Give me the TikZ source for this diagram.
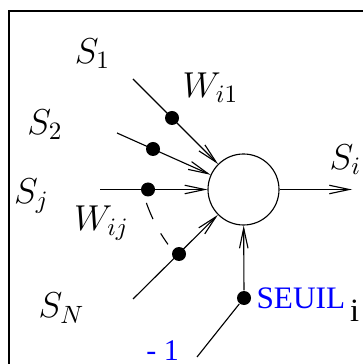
\documentclass[tikz,border=0pt]{standalone}
\usepackage{fontspec}
\newfontfamily\timesf{Liberation Serif}
\usetikzlibrary{arrows.meta}
\begin{document}
\begin{tikzpicture}[x=0.4pt,y=-0.4pt,line width=0.45pt,
  arr/.style={-{Straight Barb[length=8pt,width=3.4pt]}},
  dotnode/.style={circle,fill=black,inner sep=0pt,minimum size=5.6pt},
  neuron/.style={circle,draw,inner sep=0pt,minimum size=28.4pt},
  lab/.style={inner sep=0pt,font=\fontsize{14}{16}\selectfont},
  rlab/.style={inner sep=0pt,font=\timesf\fontsize{12.5}{14}\selectfont},
  dashlink/.style={dash pattern=on 7pt off 6.5pt}]
\useasboundingbox (0,0) rectangle (363,364);
% frame
\draw[line width=0.55pt] (9,364) -- (9,11) -- (363,11);
% neuron
\node[neuron] (n) at (243.5,189.5) {};
% start points
\coordinate (s1) at (133,79);
\coordinate (s2) at (117,133);
\coordinate (sj) at (100,189.5);
\coordinate (sN) at (133,299);
\coordinate (m1) at (197,357);
\coordinate (out) at (352,189.5);
% connectors
\draw[arr] (s1) -- (n);
\draw[arr] (s2) -- (n);
\draw[arr] (sj) -- (n);
\draw[arr] (sN) -- (n);
\draw[arr] (n) -- (out);
% dots
\node[dotnode] (d1) at (172,118) {};
\node[dotnode] (d2) at (153,149) {};
\node[dotnode] (dj) at (148,189.5) {};
\node[dotnode] (dN) at (179,254) {};
\node[dotnode] (ds) at (244,298) {};
\draw[arr] (ds) -- (n);
\draw (m1) -- (ds);
\draw[dashlink,shorten <=3pt,shorten >=3pt] (dj.237) to[bend right=8] (dN.152);
% labels
\node[lab] (l1) at (92.5,54) {$S_1$};
\node[lab] (lw1) at (210.5,87.5) {$W_{i1}$};
\node[lab] (l2) at (45,125) {$S_2$};
\node[lab] (li) at (345.5,160) {$S_i$};
\node[lab] (lj) at (31.5,196) {$S_j$};
\node[lab] (lwj) at (101.5,223) {$W_{ij}$};
\node[lab] (lN) at (61.5,308) {$S_N$};
\node[rlab,anchor=base west] (ls) at (256,308) {\textcolor{blue}{SEUIL}\hspace{2pt}\raisebox{-5.2pt}{\fontsize{13}{14}\selectfont i}};
\node[rlab,text=blue,font=\timesf\fontsize{12}{14}\selectfont] (lm) at (162.5,350.5) {- 1};
\end{tikzpicture}
\end{document}
